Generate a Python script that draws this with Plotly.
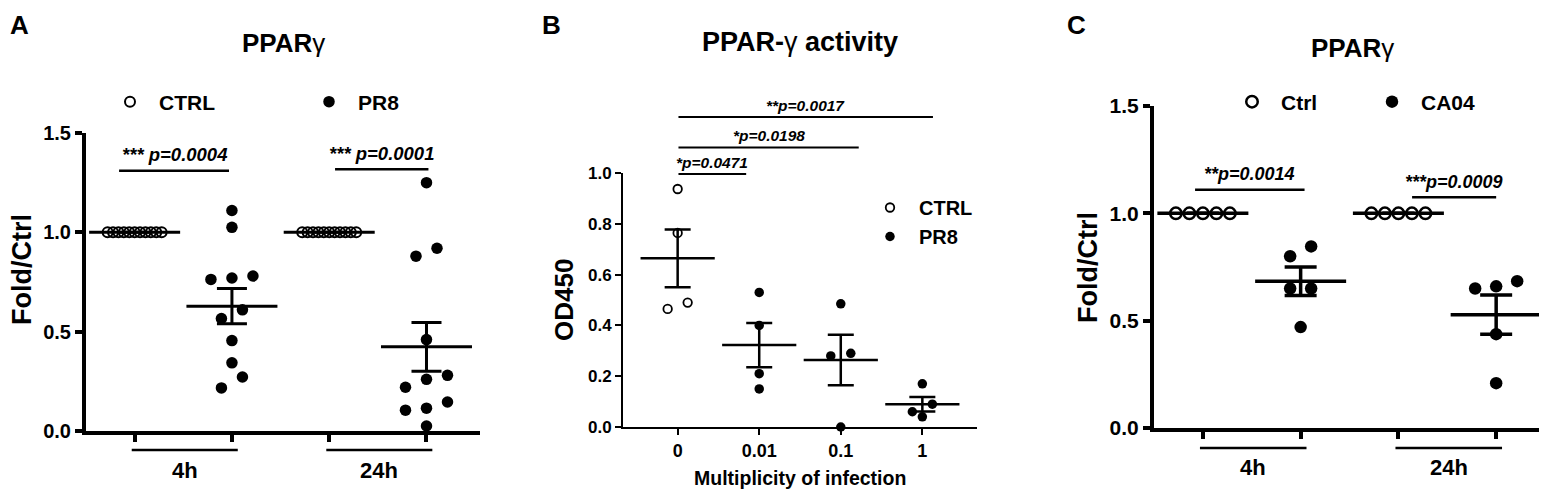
import numpy as np
import plotly.graph_objects as go

W, H = 1547, 490
OX, OY = -8, -8          # page body margin shifts the figure by 8px
FONT = 'Liberation Sans, Arial, Helvetica, sans-serif'

# ---------------- values ----------------
# A  PPARg (fold / ctrl), CTRL vs PR8 at 4h and 24h
a_groups = ['4h', '24h']
a_ctrl_4h = [1.00, 1.00, 1.00, 1.00, 1.00, 1.00, 1.00, 1.00, 1.00, 1.00, 1.00]
a_pr8_4h = [1.11, 1.025, 0.78, 0.77, 0.763, 0.61, 0.566, 0.455, 0.343, 0.272, 0.217]
a_ctrl_24h = [1.00, 1.00, 1.00, 1.00, 1.00, 1.00, 1.00, 1.00, 1.00, 1.00, 1.00]
a_pr8_24h = [1.25, 0.92, 0.88, 0.46, 0.28, 0.26, 0.22, 0.146, 0.115, 0.105, 0.025]
a_pvals = ['*** p=0.0004', '*** p=0.0001']

# B  PPAR-g activity (OD450) vs multiplicity of infection
b_moi = ['0', '0.01', '0.1', '1']
b_ctrl_0 = [0.937, 0.764, 0.49, 0.465]
b_pr8_001 = [0.53, 0.40, 0.21, 0.15]
b_pr8_01 = [0.485, 0.29, 0.28, 0.00]
b_pr8_1 = [0.17, 0.09, 0.06, 0.04]
b_pvals = ['**p=0.0017', '*p=0.0198', '*p=0.0471']

# C  PPARg (fold / ctrl), Ctrl vs CA04
c_groups = ['4h', '24h']
c_ctrl_4h = [1.00, 1.00, 1.00, 1.00, 1.00]
c_ca04_4h = [0.846, 0.80, 0.65, 0.65, 0.47]
c_ctrl_24h = [1.00, 1.00, 1.00, 1.00, 1.00]
c_ca04_24h = [0.684, 0.66, 0.65, 0.437, 0.209]
c_pvals = ['**p=0.0014', '***p=0.0009']


def fx(x):
    return (x + OX) / W


def fy(y):
    return 1 - (y + OY) / H


def frac(v, rng):
    return (v - rng[0]) / (rng[1] - rng[0])


def swarm(vals, center, ppx, ppy, step, row, gap):
    # GraphPad-like scatter: points closer than `gap` px vertically share a row
    vals = np.asarray(vals, float)
    order = np.argsort(-vals, kind='stable')
    rows = []
    for i in order:
        if rows and (vals[rows[-1][0]] - vals[i]) * ppy < gap:
            rows[-1].append(i)
        else:
            rows.append([i])
    x = np.full(len(vals), float(center))
    for r in rows:
        k = len(r)
        if k > 1:
            sp = min(step, row / (k - 1)) / ppx
            for j, i in enumerate(r):
                x[i] = center + ((k - 1) / 2 - j) * sp
    return x


def dots(groups, centers, name, filled, xa, ya, ppx, ppy, size, lw, legend, step, row, gap):
    xs, ys = [], []
    for vals, c in zip(groups, centers):
        xs += list(swarm(vals, c, ppx, ppy, step, row, gap))
        ys += list(vals)
    return go.Scatter(
        x=xs, y=ys, mode='markers', name=name, xaxis=xa, yaxis=ya, legend=legend,
        legendgroup=name, cliponaxis=False, hoverinfo='skip',
        marker=dict(symbol='circle' if filled else 'circle-open', size=size, color='black',
                    line=dict(width=0 if filled else lw, color='black')),
    )


def mean_sem(groups, centers, xa, ya, bar, cap, lw):
    m = [np.mean(v) for v in groups]
    s = [np.std(v, ddof=1) / np.sqrt(len(v)) for v in groups]
    return go.Scatter(
        x=centers, y=m, mode='markers', xaxis=xa, yaxis=ya, showlegend=False,
        cliponaxis=False, hoverinfo='skip',
        marker=dict(symbol='line-ew', size=bar, color='black', line=dict(width=lw, color='black')),
        error_y=dict(type='data', array=s, width=cap, thickness=lw, color='black'),
    )


shapes, annotations = [], []


def bracket(xa, ya, xr, yr, x0, x1, y, text, size, lw, shift):
    shapes.append(dict(type='line', xref=f'{xa} domain', yref=f'{ya} domain',
                       x0=frac(x0, xr), x1=frac(x1, xr), y0=frac(y, yr), y1=frac(y, yr),
                       line=dict(color='black', width=lw)))
    annotations.append(dict(xref=f'{xa} domain', yref=f'{ya} domain', x=frac((x0 + x1) / 2, xr),
                            y=frac(y, yr), yshift=shift, xanchor='center', yanchor='middle',
                            showarrow=False, text=f'<b><i>{text}</i></b>',
                            font=dict(size=size, family=FONT, color='black')))


def group_label(xa, ya, xr, x0, x1, text, line_dy, text_dy, size, lw):
    shapes.append(dict(type='line', xref=f'{xa} domain', yref=f'{ya} domain', ysizemode='pixel',
                       yanchor=0, x0=frac(x0, xr), x1=frac(x1, xr), y0=-line_dy, y1=-line_dy,
                       line=dict(color='black', width=lw)))
    annotations.append(dict(xref=f'{xa} domain', yref=f'{ya} domain', x=frac((x0 + x1) / 2, xr),
                            y=0, yshift=-text_dy, xanchor='center', yanchor='middle',
                            showarrow=False, text=text,
                            font=dict(size=size, family=FONT, color='black', weight='bold')))


def paper_text(x, y, text, size, angle=0, weight='bold', xanchor='center', yanchor='middle'):
    annotations.append(dict(xref='paper', yref='paper', x=fx(x), y=fy(y), text=text,
                            showarrow=False, textangle=angle, xanchor=xanchor, yanchor=yanchor,
                            font=dict(size=size, family=FONT, color='black', weight=weight)))


def xaxis(px0, px1, rng, lw, ticklen, **kw):
    d = dict(domain=[fx(px0), fx(px1)], range=list(rng), showline=True, linewidth=lw,
             linecolor='black', ticks='outside', ticklen=ticklen, tickwidth=lw, tickcolor='black',
             showgrid=False, zeroline=False, fixedrange=True)
    d.update(kw)
    return d


def yaxis(py0, py1, rng, lw, ticklen, dtick, size, **kw):
    return dict(domain=[fy(py0), fy(py1)], range=list(rng), showline=True, linewidth=lw,
                linecolor='black', ticks='outside', ticklen=ticklen, tickwidth=lw,
                tickcolor='black', showgrid=False, zeroline=False, fixedrange=True,
                tick0=0, dtick=dtick, tickformat='.1f',
                tickfont=dict(size=size, family=FONT, color='black', weight='bold'), **kw)


fig = go.Figure()

# ---------------- panel A ----------------
axr, ayr = (-0.5, 3.55), (0, 1.5)
appx, appy = (480 - 86) / (axr[1] - axr[0]), (431 - 133) / 1.5
fig.add_trace(dots([a_ctrl_4h, a_ctrl_24h], [0, 2], 'CTRL', False, 'x', 'y', appx, appy, 10, 2, 'legend', 21, 54, 13))
fig.add_trace(dots([a_pr8_4h, a_pr8_24h], [1, 3], 'PR8', True, 'x', 'y', appx, appy, 11.5, 0, 'legend', 21, 54, 13))
fig.add_trace(mean_sem([a_ctrl_4h, a_pr8_4h, a_ctrl_24h, a_pr8_24h], [0, 1, 2, 3], 'x', 'y', 65, 15, 3))
bracket('x', 'y', axr, ayr, -0.16, 0.97, 1.31, a_pvals[0], 18.5, 2.5, 16)
bracket('x', 'y', axr, ayr, 2.06, 3.02, 1.318, a_pvals[1], 18.5, 2.5, 16)
for k, g in enumerate(a_groups):
    group_label('x', 'y', axr, 2 * k - 0.03, 2 * k + 1.06, g, 19, 39, 22, 2.5)
paper_text(8, 8, 'A', 26, xanchor='left', yanchor='top')
paper_text(283, 43, '<b>PPAR</b>γ', 26, weight='normal')
paper_text(22, 270, 'Fold/Ctrl', 27, angle=-90)

# ---------------- panel B ----------------
bxr, byr = (-0.67, 3.67), (0, 1.0)
bppx, bppy = (977 - 623) / (bxr[1] - bxr[0]), (427 - 173) / 1.0
fig.add_trace(dots([b_ctrl_0], [0], 'CTRL', False, 'x2', 'y2', bppx, bppy, 8.5, 1.8, 'legend2', 20, 54, 11))
fig.add_trace(dots([b_pr8_001, b_pr8_01, b_pr8_1], [1, 2, 3], 'PR8', True, 'x2', 'y2', bppx, bppy, 9.5, 0, 'legend2', 20, 54, 11))
fig.add_trace(mean_sem([b_ctrl_0, b_pr8_001, b_pr8_01, b_pr8_1], [0, 1, 2, 3], 'x2', 'y2', 53, 13, 2.5))
bracket('x2', 'y2', bxr, byr, 0.01, 3.13, 1.22, b_pvals[0], 15.5, 2, 12)
bracket('x2', 'y2', bxr, byr, 0.01, 2.22, 1.10, b_pvals[1], 15.5, 2, 12)
bracket('x2', 'y2', bxr, byr, 0.01, 0.84, 0.996, b_pvals[2], 15.5, 2, 12)
paper_text(540, 8, 'B', 26, xanchor='left', yanchor='top')
paper_text(800, 42, '<b>PPAR-</b>γ<b> activity</b>', 27, weight='normal')
paper_text(564, 300, 'OD450', 26, angle=-90)
paper_text(800, 478, 'Multiplicity of infection', 19.5)

# ---------------- panel C ----------------
cxr, cyr = (-0.5, 3.52), (0, 1.5)
cppx, cppy = (1547 - 1154) / (cxr[1] - cxr[0]), (428 - 106) / 1.5
fig.add_trace(dots([c_ctrl_4h, c_ctrl_24h], [0, 2], 'Ctrl', False, 'x3', 'y3', cppx, cppy, 11.5, 2.5, 'legend3', 21, 54, 13))
fig.add_trace(dots([c_ca04_4h, c_ca04_24h], [1, 3], 'CA04', True, 'x3', 'y3', cppx, cppy, 12.5, 0, 'legend3', 21, 54, 13))
fig.add_trace(mean_sem([c_ctrl_4h, c_ca04_4h, c_ctrl_24h, c_ca04_24h], [0, 1, 2, 3], 'x3', 'y3', 65, 16, 3.5))
bracket('x3', 'y3', cxr, cyr, -0.08, 1.04, 1.11, c_pvals[0], 18, 2.5, 16)
bracket('x3', 'y3', cxr, cyr, 2.14, 3.0, 1.075, c_pvals[1], 18, 2.5, 15)
for k, g in enumerate(c_groups):
    group_label('x3', 'y3', cxr, 2 * k - 0.03, 2 * k + 1.06, g, 20, 39, 22, 2.5)
paper_text(1065, 8, 'C', 26, xanchor='left', yanchor='top')
paper_text(1352, 48, '<b>PPAR</b>γ', 26, weight='normal')
paper_text(1088, 268, 'Fold/Ctrl', 27, angle=-90)

legend_font = dict(size=21, family=FONT, color='black', weight='bold')
fig.update_layout(
    width=W, height=H,
    margin=dict(l=0, r=0, t=0, b=0, autoexpand=False),
    paper_bgcolor='white', plot_bgcolor='white',
    font=dict(family=FONT, color='black'),
    xaxis=xaxis(86, 480, axr, 4, 7, anchor='y', tickvals=[0, 1, 2, 3], ticktext=['', '', '', '']),
    yaxis=yaxis(431, 133, ayr, 4, 7, 0.5, 20, anchor='x'),
    xaxis2=xaxis(623, 977, bxr, 2, 6, anchor='y2', tickvals=[0, 1, 2, 3], ticktext=b_moi,
                 tickfont=dict(size=18, family=FONT, color='black', weight='bold')),
    yaxis2=yaxis(427, 173, byr, 2, 6, 0.2, 17, anchor='x2'),
    xaxis3=xaxis(1154, 1547, cxr, 4, 7, anchor='y3', tickvals=[0, 1, 2, 3], ticktext=['', '', '', '']),
    yaxis3=yaxis(428, 106, cyr, 4, 7, 0.5, 21, anchor='x3'),
    legend=dict(orientation='h', x=fx(101), y=fy(102), xanchor='left', yanchor='middle',
                font=legend_font, bgcolor='rgba(0,0,0,0)', itemwidth=48, entrywidth=136),
    legend2=dict(orientation='v', x=fx(861), y=fy(222), xanchor='left', yanchor='middle',
                 font=dict(size=20, family=FONT, color='black', weight='bold'),
                 bgcolor='rgba(0,0,0,0)', itemwidth=48, tracegroupgap=0),
    legend3=dict(orientation='h', x=fx(1223), y=fy(102), xanchor='left', yanchor='middle',
                 font=legend_font, bgcolor='rgba(0,0,0,0)', itemwidth=48, entrywidth=77),
    shapes=shapes,
    annotations=annotations,
)

fig.write_html("out.html")
